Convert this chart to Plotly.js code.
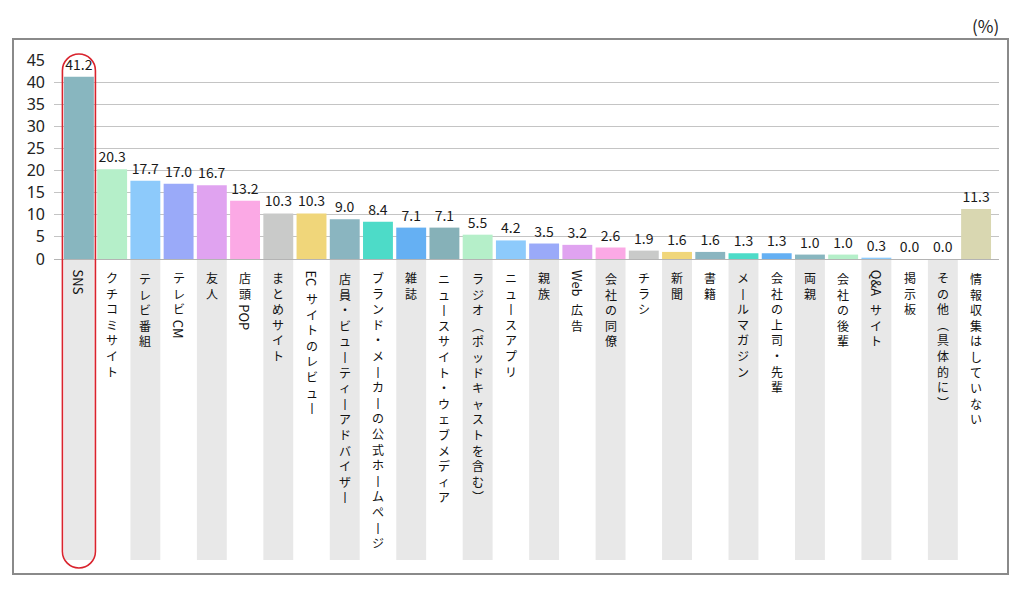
<!DOCTYPE html>
<html>
<head>
<meta charset="utf-8">
<script src="https://cdn.plot.ly/plotly-3.0.1.min.js"></script>
<style>html,body{margin:0;padding:0;background:#fff;}#chart{width:1024px;height:589px;}</style>
</head>
<body>
<div id="chart"></div>
<script>
// ---- data ----
const categories = [
  "SNS", "クチコミサイト", "テレビ番組", "テレビ CM", "友人", "店頭 POP", "まとめサイト",
  "EC サイトのレビュー", "店員・ビューティーアドバイザー", "ブランド・メーカーの公式ホームページ",
  "雑誌", "ニュースサイト・ウェブメディア", "ラジオ（ポッドキャストを含む）", "ニュースアプリ",
  "親族", "Web 広告", "会社の同僚", "チラシ", "新聞", "書籍", "メールマガジン",
  "会社の上司・先輩", "両親", "会社の後輩", "Q&A サイト", "掲示板", "その他（具体的に）",
  "情報収集はしていない"
];
const values = [
  41.2, 20.3, 17.7, 17.0, 16.7, 13.2, 10.3,
  10.3, 9.0, 8.4,
  7.1, 7.1, 5.5, 4.2,
  3.5, 3.2, 2.6, 1.9, 1.6, 1.6, 1.3,
  1.3, 1.0, 1.0, 0.3, 0.0, 0.0,
  11.3
];
const barColors = [
  "#88b6bf", "#b5efc9", "#8dcafb", "#9aaaf9", "#e0a3f0", "#fba9e5", "#c9cac9",
  "#f0d67a", "#8ab5c0", "#4ddbc8",
  "#65b0f3", "#86b1b8", "#b5efc9", "#8dcafb",
  "#9aaaf9", "#e0a3f0", "#fba9e5", "#c9cac9", "#f0d67a", "#8ab5c0", "#4ddbc8",
  "#65b0f3", "#88b6bf", "#b5efc9", "#8dcafb", "#9aaaf9", "#e0a3f0",
  "#d9d7b1"
];
const unitLabel = "(%)";
const yTicks = [0, 5, 10, 15, 20, 25, 30, 35, 40, 45];

// ---- helpers ----
const FONT = '"Noto Sans CJK JP", "Noto Sans", sans-serif';
const CJK_SIZE = 12;            // Plotly line spacing = 1.3em -> 15.6px per character cell
const STEP = CJK_SIZE * 1.3;
const LATIN_SIZE = 13;
const canvas = document.createElement('canvas');
const ctx = canvas.getContext('2d');
ctx.font = LATIN_SIZE + 'px "Noto Sans CJK JP"';

// vertical-writing forms
const verticalForms = {"ー": "丨", "（": "︵", "）": "︶"};

const idx = categories.map((_, i) => i);
const annotations = [];
const shapes = [];

// gray label columns (alternate)
idx.forEach(i => {
  if (i % 2 === 0 && i < categories.length - 1) {
    shapes.push({
      type: 'rect', layer: 'below',
      xref: 'x', x0: i - 0.45, x1: i + 0.45,
      yref: 'paper', ysizemode: 'pixel', yanchor: 0, y0: -1, y1: -301,
      fillcolor: '#e8e8e8', line: {width: 0}
    });
  }
});

// vertical category labels: CJK runs stacked, Latin runs rotated
idx.forEach(i => {
  const runs = categories[i].match(/[A-Za-z0-9&]+|\s+|[^A-Za-z0-9&\s]+/gu);
  let cursor = 11;
  runs.forEach(run => {
    if (/^\s+$/.test(run)) { cursor += 3; return; }
    if (/^[A-Za-z0-9&]+$/.test(run)) {
      const w = ctx.measureText(run).width;
      annotations.push({
        xref: 'x', x: i, yref: 'paper', y: 0, yanchor: 'middle', xanchor: 'center',
        yshift: -(cursor + w / 2), text: run, textangle: 90, showarrow: false,
        font: {size: LATIN_SIZE, color: '#111', family: FONT}
      });
      cursor += w + 2;
      return;
    }
    const chars = Array.from(run).map(c => verticalForms[c] || c);
    const h = chars.length * STEP;
    annotations.push({
      xref: 'x', x: i, yref: 'paper', y: 0, yanchor: 'middle', xanchor: 'center',
      yshift: -(cursor + h / 2), text: chars.join('<br>'), align: 'center', showarrow: false,
      font: {size: CJK_SIZE, color: '#111', family: FONT}
    });
    cursor += h;
  });
});

// unit label
annotations.push({
  xref: 'paper', x: 1, xanchor: 'right', xshift: 2,
  yref: 'paper', y: 1, yanchor: 'middle', yshift: 35,
  text: unitLabel, showarrow: false, font: {size: 17, color: '#222', family: FONT}
});

// highlight of the top category
const topIdx = values.indexOf(Math.max(...values));
(function () {
  const r = 16.5, top = 205, bot = -309, k = 0.5523 * r;
  const p = [
    `M ${-r} ${top - r}`,
    `L ${-r} ${bot + r}`,
    `C ${-r} ${bot + r - k} ${-k} ${bot} 0 ${bot}`,
    `C ${k} ${bot} ${r} ${bot + r - k} ${r} ${bot + r}`,
    `L ${r} ${top - r}`,
    `C ${r} ${top - r + k} ${k} ${top} 0 ${top}`,
    `C ${-k} ${top} ${-r} ${top - r + k} ${-r} ${top - r}`,
    'Z'
  ].join(' ');
  shapes.push({
    type: 'path', layer: 'above',
    xref: 'x', xsizemode: 'pixel', xanchor: topIdx,
    yref: 'paper', ysizemode: 'pixel', yanchor: 0,
    path: p, line: {color: '#d9232d', width: 1.6}, fillcolor: 'rgba(0,0,0,0)'
  });
})();

// outer frame
shapes.push({
  type: 'rect', layer: 'above',
  xref: 'paper', xsizemode: 'pixel', xanchor: 0, x0: -41, x1: 954,
  yref: 'paper', ysizemode: 'pixel', yanchor: 0, y0: -315, y1: 220,
  line: {color: '#8a8a8a', width: 2}, fillcolor: 'rgba(0,0,0,0)'
});

const trace = {
  type: 'bar',
  x: idx,
  y: values,
  marker: {color: barColors, line: {width: 0}},
  text: values.map(v => v.toFixed(1)),
  textposition: 'outside',
  textangle: 0,
  constraintext: 'none',
  cliponaxis: false,
  textfont: {size: 14, color: '#1a1a1a', family: FONT},
  hoverinfo: 'skip'
};

const layout = {
  width: 1024, height: 589,
  margin: {l: 54, r: 25, t: 60, b: 330},
  paper_bgcolor: '#fff', plot_bgcolor: '#fff',
  font: {family: FONT, color: '#222'},
  bargap: 0.1,
  showlegend: false,
  xaxis: {
    type: 'linear', range: [-0.75, 27.69],
    showticklabels: false, showgrid: false, zeroline: false, showline: false, ticks: ''
  },
  yaxis: {
    range: [0, 45], tickvals: yTicks, ticktext: yTicks.map(String),
    showgrid: true, gridcolor: '#c4c4c4', gridwidth: 1,
    zeroline: true, zerolinecolor: '#b4b4b4', zerolinewidth: 1,
    showline: false, ticks: '', ticklabelstandoff: 8,
    tickfont: {size: 16, color: '#222', family: '"Noto Sans", sans-serif'}
  },
  annotations: annotations,
  shapes: shapes
};

Plotly.newPlot('chart', [trace], layout, {staticPlot: true, displayModeBar: false});
</script>
</body>
</html>
